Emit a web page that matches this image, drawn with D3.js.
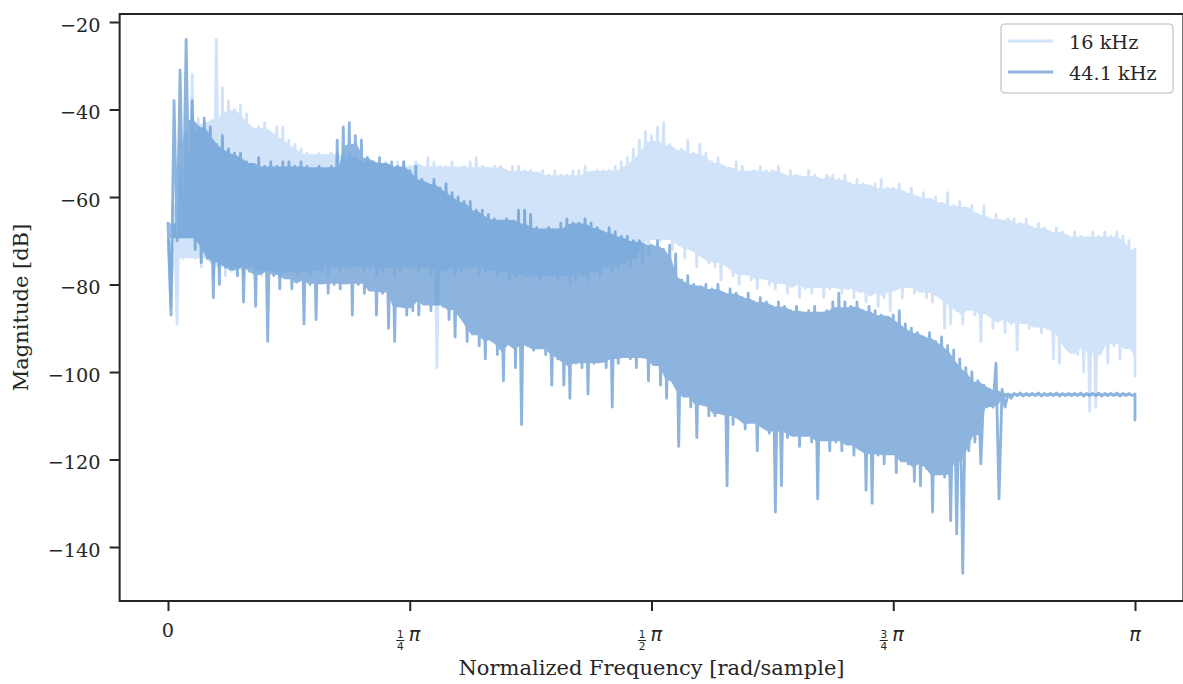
<!DOCTYPE html>
<html>
<head>
<meta charset="utf-8">
<script src="https://cdn.jsdelivr.net/npm/d3@7"></script>
<style>
  body { margin: 0; background: #fff; }
  svg text { font-family: "DejaVu Serif", serif; fill: #262626; }
</style>
</head>
<body>
<div id="chart"></div>
<script>
// frequency grid: 161 bins from 0 to pi (rad/sample)
var nBins = 161;

// 16 kHz spectrum, upper / lower value in each bin (dB)
var hi16 = [
  -70, -62, -48, -45, -32, -42, -43, -43, -24, -35,
  -38, -40, -39, -41, -45, -44, -43, -46, -44, -44,
  -47, -48, -49, -50, -51, -50, -51, -50, -50, -50,
  -50, -51, -52, -51, -52, -53, -52, -53, -52, -52,
  -53, -52, -53, -51, -52, -53, -53, -52, -54, -53,
  -52, -51, -53, -54, -53, -53, -54, -53, -53, -54,
  -54, -55, -54, -55, -54, -55, -55, -54, -54, -53,
  -55, -54, -54, -54, -53, -52, -51, -49, -47, -45,
  -46, -44, -43, -48, -50, -49, -47, -50, -48, -50,
  -52, -51, -53, -54, -52, -53, -55, -54, -53, -54,
  -54, -53, -55, -54, -55, -56, -54, -55, -56, -55,
  -55, -56, -55, -57, -56, -57, -58, -57, -56, -58,
  -58, -57, -59, -58, -60, -59, -61, -60, -62, -59,
  -62, -61, -63, -62, -64, -62, -65, -64, -66, -65,
  -65, -66, -65, -67, -66, -67, -68, -67, -68, -69,
  -68, -69, -70, -68, -69, -68, -69, -68, -69, -70, -72
];
var lo16 = [
  -85, -89, -74, -72, -74, -76, -74, -78, -76, -78,
  -77, -76, -78, -75, -77, -78, -76, -77, -78, -77,
  -77, -78, -77, -78, -76, -77, -78, -76, -77, -76,
  -76, -75, -77, -76, -78, -77, -76, -78, -77, -76,
  -76, -77, -76, -78, -99, -77, -76, -78, -77, -76,
  -76, -78, -77, -76, -78, -77, -79, -78, -77, -78,
  -78, -79, -78, -77, -79, -78, -80, -79, -78, -79,
  -77, -78, -76, -77, -76, -75, -76, -74, -75, -73,
  -68, -70, -69, -72, -71, -74, -72, -76, -73, -75,
  -76, -79, -75, -78, -80, -77, -79, -81, -78, -80,
  -81, -79, -82, -80, -83, -81, -82, -80, -83, -81,
  -80, -82, -81, -83, -81, -84, -82, -85, -83, -86,
  -80, -83, -79, -82, -81, -83, -84, -82, -90, -89,
  -86, -89, -85, -87, -93, -86, -90, -88, -91, -89,
  -95, -88, -90, -89, -91, -90, -97, -98, -92, -95,
  -96, -100, -109, -108, -92, -98, -94, -97, -91, -95, -101
];

// 44.1 kHz spectrum, upper / lower value in each bin (dB)
var hi44 = [
  -66, -38, -31, -24, -38, -44, -42, -44, -48, -46,
  -49, -50, -50, -52, -53, -51, -53, -52, -53, -52,
  -52, -53, -52, -53, -54, -53, -55, -53, -47, -44,
  -43, -46, -47, -51, -52, -51, -53, -52, -53, -52,
  -54, -53, -56, -57, -56, -58, -57, -59, -60, -61,
  -61, -63, -63, -64, -65, -66, -65, -66, -63, -63,
  -64, -67, -68, -67, -68, -66, -65, -66, -66, -65,
  -66, -67, -68, -67, -68, -69, -69, -70, -70, -71,
  -71, -70, -72, -71, -73, -79, -78, -80, -81, -80,
  -81, -80, -82, -81, -82, -83, -82, -84, -83, -84,
  -85, -84, -85, -86, -85, -87, -86, -85, -87, -86,
  -84, -82, -84, -85, -84, -86, -85, -86, -87, -88,
  -87, -86, -89, -90, -91, -92, -91, -93, -92, -94,
  -95, -97, -99, -100, -102, -103, -104, -98, -104, -105,
  -104.9, -104.8, -104.9, -104.9, -104.8, -104.9, -104.9, -104.8, -104.9, -104.9,
  -104.9, -104.8, -104.9, -104.9, -104.8, -104.9, -104.9, -104.8, -104.9, -104.9, -105
];
var lo44 = [
  -87, -70, -67, -64, -72, -75, -74, -83, -80, -76,
  -75, -78, -84, -77, -85, -76, -93, -78, -81, -77,
  -81, -79, -89, -80, -88, -79, -82, -80, -81, -79,
  -87, -80, -82, -79, -87, -82, -90, -93, -81, -87,
  -86, -87, -83, -86, -84, -85, -88, -92, -86, -93,
  -90, -94, -97, -92, -96, -102, -93, -99, -112, -94,
  -95, -94, -96, -103, -97, -103, -106, -98, -99, -105,
  -98, -97, -99, -108, -98, -94, -97, -99, -96, -102,
  -97, -103, -106, -99, -117, -105, -108, -115, -106, -110,
  -110, -108, -126, -112, -110, -113, -111, -118, -112, -114,
  -132, -126, -115, -112, -117, -114, -116, -129, -115, -118,
  -116, -118, -115, -119, -117, -127, -130, -119, -121, -118,
  -123, -119, -121, -125, -126, -122, -132, -121, -124, -134,
  -137, -146, -118, -116, -121, -108, -108, -129, -108, -106,
  -105.4, -105.5, -105.4, -105.4, -105.5, -105.4, -105.4, -105.5, -105.4, -105.4,
  -105.4, -105.5, -105.4, -105.4, -105.5, -105.4, -105.4, -105.5, -105.4, -105.4, -111
];

var seriesNames = ["16 kHz", "44.1 kHz"];
var yTicks = [-140, -120, -100, -80, -60, -40, -20];
var xTicks = [0, Math.PI / 4, Math.PI / 2, 3 * Math.PI / 4, Math.PI];
var xTickLabels = ["0", "1/4", "1/2", "3/4", "\u03c0"];

var width = 1183;
var height = 684;

var svg = d3.select("#chart")
  .append("svg")
  .attr("width", width)
  .attr("height", height);

// x: 5% margin either side of [0, pi]
var xScale = d3.scaleLinear()
  .domain([-0.05 * Math.PI, 1.05 * Math.PI])
  .range([119.65, 1183.35]);

var yScale = d3.scaleLinear()
  .domain([-152.34, -18.17])
  .range([601, 14]);

var step = Math.PI / (nBins - 1);

// each bin drawn as its top then its bottom, like a dense spectrum trace
function buildPoints(hi, lo) {
  var pts = [];
  for (var i = 0; i < hi.length; i++) {
    var f = i * step;
    pts.push([f, hi[i]]);
    pts.push([Math.min(f + step / 2, Math.PI), lo[i]]);
  }
  return pts;
}

// solid body of the trace: inner quantile over 7 neighbouring bins,
// so runs of spikes stay thin lines
function windowQ(arr, i, p) {
  var win = [];
  for (var k = i - 3; k <= i + 3; k++) {
    win.push(arr[Math.max(0, Math.min(arr.length - 1, k))]);
  }
  return d3.quantile(win, p);
}
function buildBody(hi, lo) {
  return hi.map(function(v, i) {
    return { f: i * step + step / 4, top: windowQ(hi, i, 0.3), bot: windowQ(lo, i, 0.7) };
  });
}

var line = d3.line()
  .x(function(d) { return xScale(d[0]); })
  .y(function(d) { return yScale(d[1]); });

var area = d3.area()
  .x(function(d) { return xScale(Math.min(d.f, Math.PI)); })
  .y0(function(d) { return yScale(Math.min(d.bot, d.top)); })
  .y1(function(d) { return yScale(d.top); });

var colors = ["#d1e3f8", "#5c95d1"];
var opac = [1, 0.7];

function drawSeries(hi, lo, color, op) {
  var g = svg.append("g").attr("opacity", op);
  g.append("path")
    .datum(buildBody(hi, lo))
    .attr("d", area)
    .attr("fill", color);
  g.append("path")
    .datum(buildPoints(hi, lo))
    .attr("d", line)
    .attr("fill", "none")
    .attr("stroke", color)
    .attr("stroke-width", 2.8)
    .attr("stroke-linejoin", "round")
    .attr("stroke-linecap", "round");
}

drawSeries(hi16, lo16, colors[0], opac[0]);
drawSeries(hi44, lo44, colors[1], opac[1]);

// Axes
var yAxis = d3.axisLeft(yScale)
  .tickValues(yTicks)
  .tickSize(10)
  .tickPadding(9)
  .tickFormat(function(d) { return "\u2212" + Math.abs(d); });

var gy = svg.append("g")
  .attr("transform", "translate(" + xScale.range()[0] + ",0)")
  .call(yAxis);
gy.select(".domain").remove();
gy.selectAll(".tick line").attr("stroke", "#262626").attr("stroke-width", 2);
gy.selectAll(".tick text")
  .attr("font-family", "DejaVu Serif")
  .attr("font-size", "19.3px")
  .attr("dy", "0.47em");

var xAxis = d3.axisBottom(xScale)
  .tickValues(xTicks)
  .tickSize(10)
  .tickFormat("");

var gx = svg.append("g")
  .attr("transform", "translate(0," + yScale.range()[0] + ")")
  .call(xAxis);
gx.select(".domain").remove();
gx.selectAll(".tick line").attr("stroke", "#262626").attr("stroke-width", 2);

// x tick labels: 0, fractions of pi, pi
xTicks.forEach(function(t, i) {
  var lab = xTickLabels[i];
  var g = svg.append("g").attr("transform", "translate(" + xScale(t) + ",0)");
  if (lab === "0") {
    g.append("text")
      .attr("y", 637)
      .attr("text-anchor", "middle")
      .attr("font-size", "19.3px")
      .text("0");
  } else if (lab === "\u03c0") {
    g.append("text")
      .attr("y", 641)
      .attr("text-anchor", "middle")
      .attr("font-size", "19.3px")
      .style("font-family", "DejaVu Sans")
      .style("font-style", "italic")
      .text("\u03c0");
  } else {
    var parts = lab.split("/");
    g.append("line")
      .attr("x1", -13.5).attr("x2", -5.5)
      .attr("y1", 640.5).attr("y2", 640.5)
      .attr("stroke", "#262626").attr("stroke-width", 1);
    var tx = g.append("text")
      .style("font-family", "DejaVu Sans");
    tx.append("tspan")
      .attr("x", -9.5).attr("y", 638.3)
      .attr("text-anchor", "middle")
      .attr("font-size", "10.5px")
      .text(parts[0]);
    tx.append("tspan")
      .attr("x", -9.5).attr("y", 650)
      .attr("text-anchor", "middle")
      .attr("font-size", "10.5px")
      .text(parts[1]);
    tx.append("tspan")
      .attr("x", -1).attr("y", 641)
      .attr("text-anchor", "start")
      .attr("font-size", "19.3px")
      .style("font-style", "italic")
      .text("\u03c0");
  }
});

// frame
svg.append("rect")
  .attr("x", xScale.range()[0])
  .attr("y", yScale.range()[1])
  .attr("width", xScale.range()[1] - xScale.range()[0])
  .attr("height", yScale.range()[0] - yScale.range()[1])
  .attr("fill", "none")
  .attr("stroke", "#262626")
  .attr("stroke-width", 2);

// axis labels
svg.append("text")
  .attr("x", (xScale.range()[0] + xScale.range()[1]) / 2)
  .attr("y", 675)
  .attr("text-anchor", "middle")
  .attr("font-size", "21px")
  .text("Normalized Frequency [rad/sample]");

svg.append("text")
  .attr("transform", "translate(28," + (yScale.range()[0] + yScale.range()[1]) / 2 + ")rotate(-90)")
  .attr("text-anchor", "middle")
  .attr("font-size", "21px")
  .text("Magnitude [dB]");

// legend
var legend = svg.append("g");
legend.append("rect")
  .attr("x", 1001).attr("y", 24)
  .attr("width", 172).attr("height", 69)
  .attr("rx", 4)
  .attr("fill", "#fff").attr("fill-opacity", 0.8)
  .attr("stroke", "#d0d0d0").attr("stroke-width", 1.6);

seriesNames.forEach(function(name, i) {
  var ly = 41 + i * 31;
  legend.append("line")
    .attr("x1", 1008).attr("x2", 1053)
    .attr("y1", ly).attr("y2", ly)
    .attr("stroke", colors[i])
    .attr("stroke-opacity", opac[i])
    .attr("stroke-width", 2.8);
  legend.append("text")
    .attr("x", 1069).attr("y", ly + 8)
    .attr("font-size", "19.3px")
    .text(name);
});
</script>
</body>
</html>
